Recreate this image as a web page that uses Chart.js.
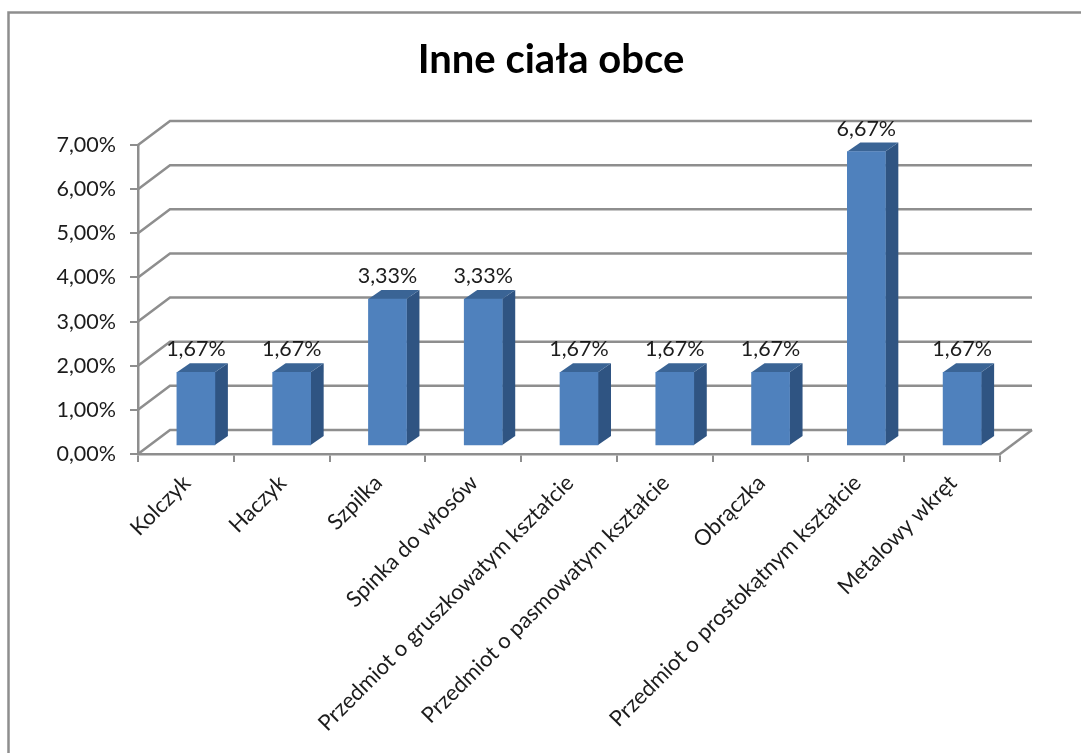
<!DOCTYPE html>
<html>
<head>
<meta charset="utf-8">
<style>
html, body { margin: 0; padding: 0; background: #fff; }
#wrap { width: 1081px; height: 753px; }
</style>
<script src="https://cdn.jsdelivr.net/npm/chart.js@4"></script>
</head>
<body>
<div id="wrap"><canvas id="chart" width="1081" height="753"></canvas></div>
<script>
const categories = ['Kolczyk', 'Haczyk', 'Szpilka', 'Spinka do włosów', 'Przedmiot o gruszkowatym kształcie',
    'Przedmiot o pasmowatym kształcie', 'Obrączka', 'Przedmiot o prostokątnym kształcie', 'Metalowy wkręt'];
const values = [1.67, 1.67, 3.33, 3.33, 1.67, 1.67, 1.67, 6.67, 1.67];
const yTicks = [0, 1, 2, 3, 4, 5, 6, 7];

const textColor = '#1c1c1c';
const lineColor = '#8e8e8e';
const font = 'Lato';

function pct(v) {
    return v.toFixed(2).replace('.', ',') + '%';
}

// outer frame of the chart object, only left and top are in the picture
const framePlugin = {
    id: 'frame',
    beforeDraw(chart) {
        const ctx = chart.ctx;
        ctx.save();
        ctx.strokeStyle = lineColor;
        ctx.lineWidth = 2.5;
        ctx.beginPath();
        ctx.moveTo(8.5, 753);
        ctx.lineTo(8.5, 12.5);
        ctx.lineTo(1081, 12.5);
        ctx.stroke();
        ctx.restore();
    }
};

// back wall lines and floor of the fake 3D box
const wallPlugin = {
    id: 'wall',
    beforeDatasetsDraw(chart) {
        const { ctx, scales: { x, y } } = chart;
        const dx = 32, dy = -24;
        ctx.save();
        ctx.strokeStyle = lineColor;
        ctx.lineWidth = 2.5;
        yTicks.forEach(t => {
            const py = y.getPixelForValue(t);
            ctx.beginPath();
            ctx.moveTo(x.left, py);
            ctx.lineTo(x.left + dx, py + dy);
            ctx.lineTo(x.right + dx, py + dy);
            ctx.stroke();
        });
        const p0 = y.getPixelForValue(0);
        ctx.beginPath();
        ctx.moveTo(x.right, p0);
        ctx.lineTo(x.right + dx, p0 + dy);
        ctx.stroke();
        ctx.restore();
    }
};

// bars sit in the middle of the floor, side and top faces come from the bar elements
const bar3dPlugin = {
    id: 'bar3d',
    beforeDatasetDraw(chart, args) {
        const ctx = chart.ctx;
        const dx = 13, dy = -9;
        ctx.save();
        ctx.translate(10, -8);
        args.meta.data.forEach(bar => {
            const l = bar.x - bar.width / 2, r = bar.x + bar.width / 2;
            ctx.fillStyle = '#2f5482';
            ctx.beginPath();
            ctx.moveTo(r, bar.y);
            ctx.lineTo(r + dx, bar.y + dy);
            ctx.lineTo(r + dx, bar.base + dy);
            ctx.lineTo(r, bar.base);
            ctx.closePath();
            ctx.fill();
            ctx.fillStyle = '#3a6495';
            ctx.beginPath();
            ctx.moveTo(l, bar.y);
            ctx.lineTo(l + dx, bar.y + dy);
            ctx.lineTo(r + dx, bar.y + dy);
            ctx.lineTo(r, bar.y);
            ctx.closePath();
            ctx.fill();
        });
    },
    afterDatasetDraw(chart, args) {
        const ctx = chart.ctx;
        ctx.fillStyle = textColor;
        ctx.font = '21.5px ' + font;
        ctx.textAlign = 'center';
        ctx.textBaseline = 'alphabetic';
        args.meta.data.forEach((bar, i) => {
            ctx.fillText(pct(values[i]), bar.x, bar.y - 9 - 7);
        });
        ctx.restore();
    }
};

new Chart(document.getElementById('chart'), {
    type: 'bar',
    data: {
        labels: categories,
        datasets: [{
            data: values,
            backgroundColor: '#4f81bd',
            barThickness: 38,
            borderWidth: 0
        }]
    },
    plugins: [framePlugin, wallPlugin, bar3dPlugin],
    options: {
        responsive: false,
        animation: false,
        layout: { padding: { left: 21, right: 0, top: 0, bottom: 0 } },
        plugins: {
            legend: { display: false },
            tooltip: { enabled: false },
            title: {
                display: true,
                text: 'Inne ciała obce',
                color: '#000',
                font: { family: font, size: 40, weight: 'bold' },
                padding: { top: 36, bottom: 61 }
            }
        },
        scales: {
            x: {
                grid: { drawOnChartArea: false, color: lineColor, lineWidth: 2, tickLength: 8 },
                border: { color: lineColor, width: 2.5 },
                ticks: {
                    color: textColor,
                    font: { family: font, size: 22 },
                    minRotation: 45,
                    maxRotation: 45,
                    autoSkip: false,
                    labelOffset: 1,
                    padding: 8
                },
                afterFit(s) {
                    s.height = 299;
                    s.paddingLeft = 0;
                    s.paddingRight = 81;
                }
            },
            y: {
                min: 0,
                max: 7,
                afterBuildTicks(s) {
                    s.ticks = yTicks.map(v => ({ value: v }));
                },
                grid: { drawOnChartArea: false, color: lineColor, lineWidth: 2, tickLength: 8 },
                border: { color: lineColor, width: 2.5 },
                ticks: {
                    color: textColor,
                    font: { family: font, size: 21.5 },
                    padding: 14,
                    callback: v => pct(v)
                },
                afterFit(s) {
                    s.width = 117;
                    s.paddingTop = 0;
                    s.paddingBottom = 0;
                }
            }
        }
    }
});
</script>
</body>
</html>
